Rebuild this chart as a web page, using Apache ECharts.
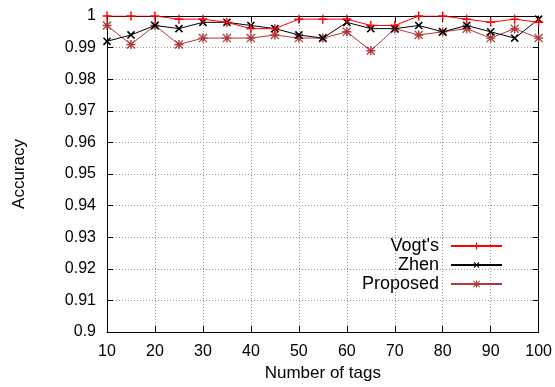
<!DOCTYPE html>
<html>
<head>
<meta charset="utf-8">
<style>
html,body{margin:0;padding:0;background:#fff;}
#chart{width:555px;height:387px;}
</style>
<script src="https://cdn.jsdelivr.net/npm/echarts@6/dist/echarts.min.js"></script>
</head>
<body>
<div id="chart"></div>
<script>
const tags = [10,15,20,25,30,35,40,45,50,55,60,65,70,75,80,85,90,95,100];
const vogt = [1.0,1.0,1.0,0.999,0.999,0.998,0.996,0.996,0.999,0.999,0.999,0.997,0.997,1.0,1.0,0.999,0.998,0.999,0.998];
const zhen = [0.992,0.994,0.997,0.996,0.998,0.998,0.997,0.996,0.994,0.993,0.998,0.996,0.996,0.997,0.995,0.997,0.995,0.993,0.999];
const proposed = [0.997,0.991,0.997,0.991,0.993,0.993,0.993,0.994,0.993,0.993,0.995,0.989,0.996,0.994,0.995,0.996,0.993,0.996,0.993];
const seriesNames = ["Vogt's", "Zhen", "Proposed"];

const FONT = 'Liberation Sans, Arial, Helvetica, sans-serif';
const plusPath = 'path://M0,4.2H4.2V0H5.8V4.2H10V5.8H5.8V10H4.2V5.8H0Z';
const starPath = 'path://M0,4.2H4.2V0H5.8V4.2H10V5.8H5.8V10H4.2V5.8H0Z M0,1L1,0L10,9L9,10Z M9,0L10,1L1,10L0,9Z';

function pairs(ys){ return tags.map((t,i)=>[t, ys[i]]); }

const chart = echarts.init(document.getElementById('chart'), null, {renderer:'canvas'});

const gridLine = {show:true, lineStyle:{color:'#999', type:[1,2], width:1}};

const option = {
  animation:false,
  backgroundColor:'#fff',
  grid:{left:107, right:16, top:16, bottom:55, containLabel:false},
  xAxis:[{
    type:'value', min:10, max:100, interval:10,
    name:'Number of tags', nameLocation:'middle', nameGap:29,
    nameTextStyle:{fontFamily:FONT, fontSize:17, color:'#000'},
    axisLine:{show:true, onZero:false, lineStyle:{color:'#000', width:1}},
    axisTick:{show:true, inside:true, length:6, lineStyle:{color:'#000'}},
    axisLabel:{fontFamily:FONT, fontSize:16, color:'#000', margin:12},
    splitLine:gridLine
  },{
    type:'value', min:10, max:100, interval:10, position:'top',
    axisLine:{show:true, onZero:false, lineStyle:{color:'#000', width:1}},
    axisTick:{show:true, inside:true, length:6, lineStyle:{color:'#000'}},
    axisLabel:{show:false}, splitLine:{show:false}
  }],
  yAxis:[{
    type:'value', min:0.9, max:1, interval:0.01,
    name:'Accuracy', nameLocation:'middle', nameGap:79,
    nameTextStyle:{fontFamily:FONT, fontSize:17, color:'#000'},
    axisLine:{show:true, onZero:false, lineStyle:{color:'#000', width:1}},
    axisTick:{show:true, inside:true, length:6, lineStyle:{color:'#000'}},
    axisLabel:{fontFamily:FONT, fontSize:16, color:'#000', margin:11,
      formatter:v=>String(parseFloat(v.toFixed(2)))},
    splitLine:gridLine
  },{
    type:'value', min:0.9, max:1, interval:0.01, position:'right',
    axisLine:{show:true, onZero:false, lineStyle:{color:'#000', width:1}},
    axisTick:{show:true, inside:true, length:6, lineStyle:{color:'#000'}},
    axisLabel:{show:false}, splitLine:{show:false}
  }],
  legend: seriesNames.map((n,i)=>({
    data:[n], right:52, top:237 + i*19, align:'right',
    itemWidth:51, itemHeight:9, itemGap:0, padding:0,
    textStyle:{fontFamily:FONT, fontSize:18, color:'#000', padding:[0,7,0,0]}
  })),
  series:[
    {
      name:seriesNames[0], type:'line', data:pairs(vogt),
      symbol:plusPath, symbolSize:9, showAllSymbol:true,
      lineStyle:{color:'#ff0000', width:1},
      itemStyle:{color:'#ff0000'}, z:3
    },
    {
      name:seriesNames[1], type:'line', data:pairs(zhen),
      symbol:plusPath, symbolSize:10, symbolRotate:45, showAllSymbol:true,
      lineStyle:{color:'#000', width:1},
      itemStyle:{color:'#000'}, z:2
    },
    {
      name:seriesNames[2], type:'line', data:pairs(proposed),
      symbol:starPath, symbolSize:9, showAllSymbol:true,
      lineStyle:{color:'#b03a3a', width:1},
      itemStyle:{color:'#b03a3a'}, z:1
    }
  ]
};
chart.setOption(option);
</script>
</body>
</html>
